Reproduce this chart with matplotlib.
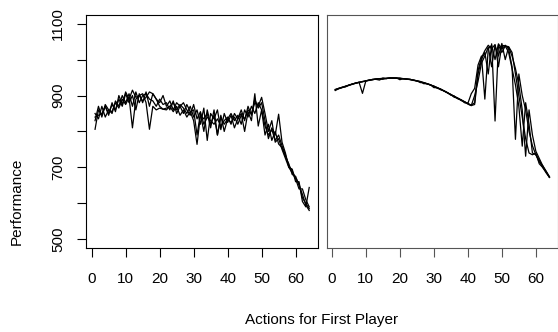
import numpy as np
import matplotlib.pyplot as plt

plt.rcParams['font.family'] = ['Liberation Sans', 'DejaVu Sans']

actions = np.arange(1, 65)

# first panel: four noisy runs
left_run1 = [806, 860, 845, 870, 850, 875, 860, 890, 870, 905,
             880, 900, 860, 905, 880, 910, 870, 905, 890, 880,
             900, 870, 885, 860, 880, 870, 850, 875, 855, 860,
             790, 850, 800, 860, 820, 845, 790, 840, 820, 835,
             850, 830, 845, 820, 860, 840, 870, 850, 880, 860,
             815, 790, 805, 775, 790, 760, 735, 705, 690, 670,
             655, 615, 600, 585]
left_run2 = [850, 835, 870, 840, 860, 855, 880, 865, 890, 875,
             895, 810, 890, 900, 905, 880, 806, 870, 860, 865,
             862, 860, 870, 855, 870, 845, 860, 840, 855, 830,
             764, 845, 835, 850, 810, 860, 790, 845, 800, 835,
             825, 840, 820, 845, 835, 860, 850, 880, 870, 895,
             850, 800, 830, 770, 780, 750, 725, 700, 685, 668,
             640, 640, 610, 590]
left_run3 = [840, 845, 850, 870, 845, 880, 855, 900, 875, 910,
             890, 915, 895, 900, 885, 895, 910, 905, 890, 870,
             862, 865, 870, 880, 860, 875, 865, 850, 870, 840,
             860, 820, 865, 775, 850, 835, 860, 805, 850, 825,
             845, 810, 835, 850, 800, 855, 830, 905, 815, 860,
             790, 820, 775, 800, 765, 755, 730, 710, 680, 675,
             650, 625, 595, 580]
left_run4 = [830, 870, 840, 875, 860, 850, 885, 870, 900, 880,
             905, 870, 910, 880, 900, 905, 890, 885, 870, 890,
             875, 880, 860, 885, 850, 870, 880, 860, 845, 875,
             835, 855, 820, 840, 830, 820, 835, 815, 830, 840,
             820, 850, 835, 860, 830, 870, 845, 890, 865, 880,
             830, 780, 810, 790, 848, 770, 740, 700, 695, 660,
             660, 605, 590, 644]

# second panel: smooth arc then a burst of peaks
right_run1 = [916, 920, 922, 926, 929, 932, 935, 937, 906, 941,
              943, 945, 946, 947, 948, 948, 949, 949, 949, 948,
              947, 946, 945, 943, 941, 939, 936, 933, 930, 926,
              922, 918, 913, 908, 903, 898, 893, 888, 883, 878,
              905, 920, 985, 1010, 890, 1030, 1040, 1000, 1044, 1030,
              1040, 1030, 980, 778, 960, 900, 860, 800, 760, 735,
              720, 700, 688, 673]
right_run2 = [914, 919, 923, 925, 929, 931, 935, 936, 939, 941,
              942, 945, 945, 943, 948, 947, 949, 948, 949, 944,
              947, 946, 944, 943, 940, 939, 933, 933, 929, 926,
              920, 918, 912, 908, 902, 898, 891, 888, 880, 878,
              872, 875, 960, 1000, 1020, 960, 1044, 829, 1040, 1020,
              1038, 1020, 975, 930, 870, 759, 880, 820, 740, 735,
              715, 705, 690, 674]
right_run3 = [917, 920, 923, 924, 929, 932, 934, 937, 939, 940,
              943, 944, 946, 947, 945, 948, 948, 949, 948, 948,
              946, 946, 945, 942, 941, 936, 936, 932, 930, 922,
              922, 917, 913, 907, 903, 895, 893, 886, 883, 876,
              872, 900, 940, 990, 1010, 1035, 980, 1040, 1010, 1045,
              1000, 1035, 1010, 975, 930, 860, 731, 860, 790, 745,
              725, 705, 688, 672]
right_run4 = [916, 919, 922, 926, 928, 932, 934, 937, 938, 941,
              943, 944, 946, 946, 948, 947, 949, 949, 948, 948,
              947, 945, 945, 943, 941, 938, 936, 933, 929, 926,
              922, 916, 913, 908, 901, 898, 892, 888, 882, 878,
              873, 880, 970, 1005, 1025, 1040, 1030, 1042, 980, 1040,
              1038, 1036, 1020, 960, 900, 840, 780, 740, 735, 740,
              710, 700, 685, 672]

left_runs = [left_run1, left_run2, left_run3, left_run4]
right_runs = [right_run1, right_run2, right_run3, right_run4]

xticks = [0, 10, 20, 30, 40, 50, 60]
yticks = [500, 600, 700, 800, 900, 1000, 1100]
ylabels = ['500', '', '700', '', '900', '', '1100']

fig = plt.figure(figsize=(5.58, 3.32), dpi=100)
ax1 = fig.add_axes([0.155, 0.2536, 0.4145, 0.701])
ax2 = fig.add_axes([0.5855, 0.2536, 0.4145, 0.701])

for run in left_runs:
    ax1.plot(actions, run, color='black', lw=0.9)
for run in right_runs:
    ax2.plot(actions, run, color='black', lw=0.9)

for ax, col in [(ax1, 'black'), (ax2, '#555555')]:
    ax.set_xlim(-1.52, 66.52)
    ax.set_ylim(476, 1124)
    ax.set_xticks(xticks)
    ax.tick_params(axis='x', length=6.5, width=0.8, pad=11, labelsize=11, colors=col,
                   labelcolor='black')
    for s in ax.spines.values():
        s.set_color(col)
        s.set_linewidth(0.8)

ax1.set_yticks(yticks)
ax1.set_yticklabels(ylabels, rotation=90, va='center')
ax1.tick_params(axis='y', length=6.5, width=0.8, pad=9, labelsize=11)
ax2.set_yticks([])

fig.text(0.03, 0.395, 'Performance', rotation=90, ha='center', va='center', fontsize=11)
fig.text(0.577, 0.035, 'Actions for First Player', ha='center', va='center', fontsize=11)

fig.savefig('out.png', dpi=100)
